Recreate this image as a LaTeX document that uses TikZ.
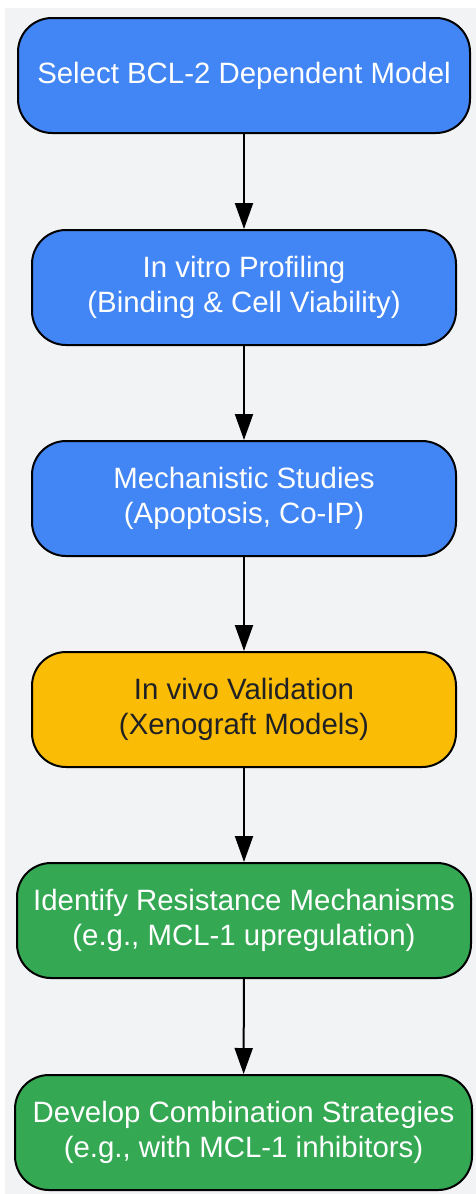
\documentclass[tikz,border=0pt]{standalone}
\usepackage{fontspec}
\setmainfont{Liberation Sans}
\usetikzlibrary{arrows.meta}
\definecolor{bgc}{HTML}{F1F3F4}
\definecolor{gblue}{HTML}{4285F4}
\definecolor{gyellow}{HTML}{FBBC05}
\definecolor{ggreen}{HTML}{34A853}
\definecolor{dtext}{HTML}{202124}
\tikzset{
  stepbox/.style={draw=black, line width=2pt, rounded corners=34pt, minimum height=115pt, align=center, font=\fontsize{29.4}{35}\selectfont, inner sep=0pt},
  bluebox/.style={stepbox, fill=gblue, text=white},
  yellowbox/.style={stepbox, fill=gyellow, text=dtext},
  greenbox/.style={stepbox, fill=ggreen, text=white},
  conn/.style={draw=black, line width=2pt, -{Triangle[length=26pt, width=18pt]}}
}
\begin{document}
\begin{tikzpicture}[x=1pt,y=1pt]
\useasboundingbox (0,0) rectangle (476,-1194);
\fill[bgc] (5,-8) rectangle (476,-1194);
\node[bluebox, minimum width=452pt] (n1) at (244,-75.5) {Select BCL-2 Dependent Model};
\node[bluebox, minimum width=424pt] (n2) at (244,-287.5) {In vitro Profiling\\(Binding \& Cell Viability)};
\node[bluebox, minimum width=424pt] (n3) at (244,-498.5) {Mechanistic Studies\\(Apoptosis, Co-IP)};
\node[yellowbox, minimum width=424pt] (n4) at (244,-709.5) {In vivo Validation\\(Xenograft Models)};
\node[greenbox, minimum width=454pt] (n5) at (244,-920.5) {Identify Resistance Mechanisms\\(e.g., MCL-1 upregulation)};
\node[greenbox, minimum width=457pt] (n6) at (243.5,-1132.5) {Develop Combination Strategies\\(e.g., with MCL-1 inhibitors)};
\draw[conn] (n1) -- (n2);
\draw[conn] (n2) -- (n3);
\draw[conn] (n3) -- (n4);
\draw[conn] (n4) -- (n5);
\draw[conn] (n5) -- (n6);
\end{tikzpicture}
\end{document}
